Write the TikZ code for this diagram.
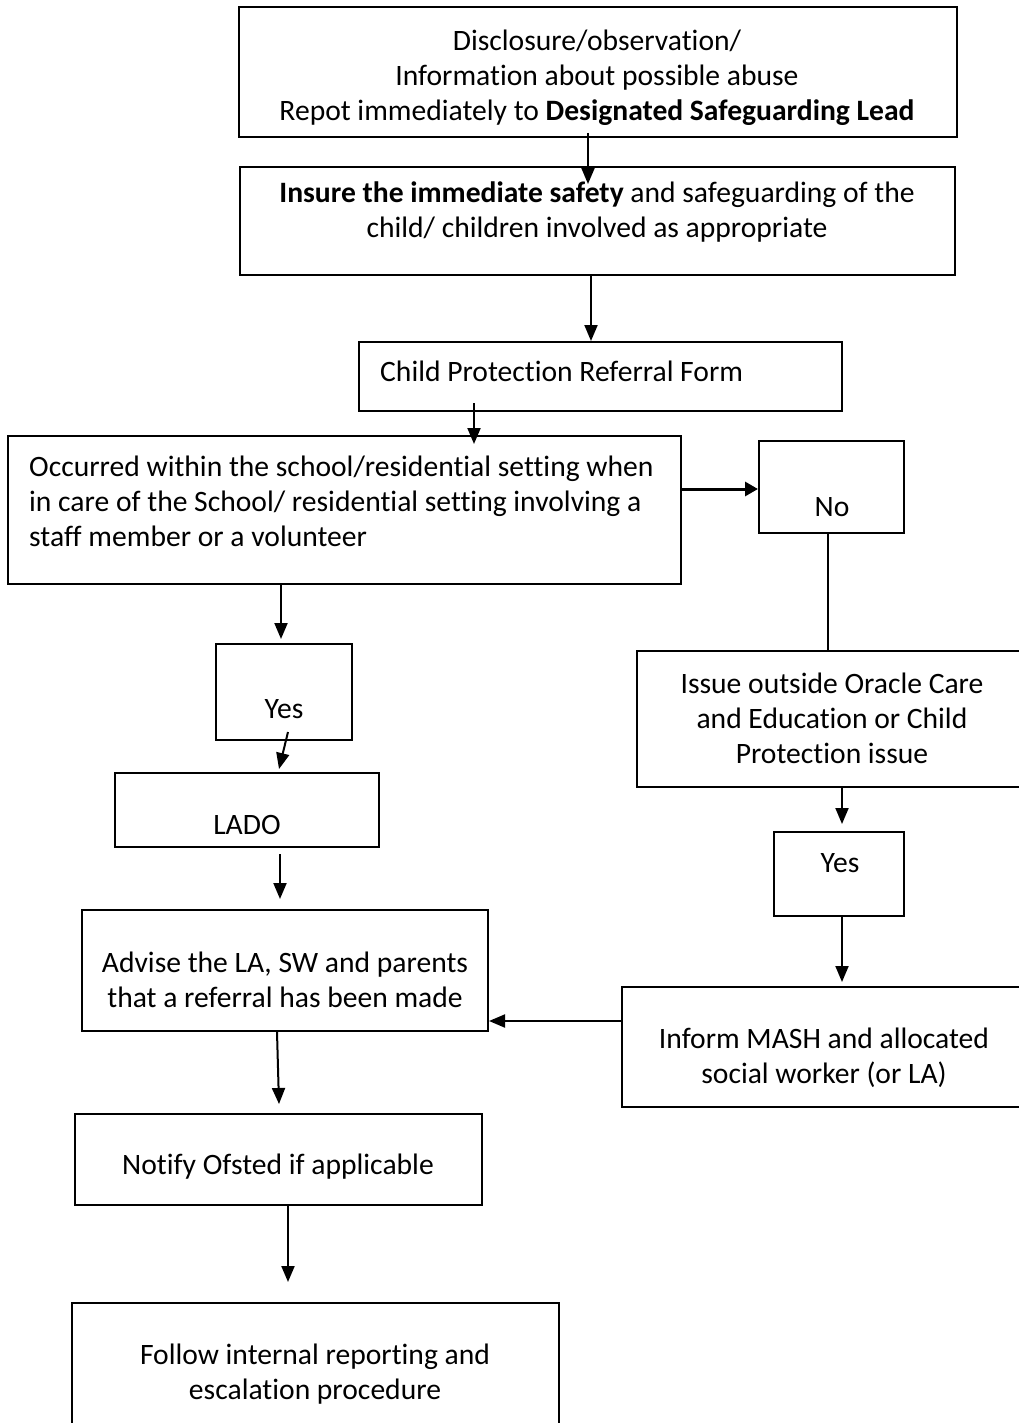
\documentclass[tikz,border=0pt]{standalone}
\usepackage{fontspec}
\setmainfont{Carlito}[Ligatures=NoCommon]
\usetikzlibrary{arrows.meta,calc}
\tikzset{
  box/.style={draw, line width=2pt, inner sep=0pt, rectangle},
  txt/.style={inner sep=0pt, font=\fontsize{29.6}{35}\selectfont, align=center},
  arr/.style={line width=2pt, -{Triangle[length=16pt,width=13pt]}},
  plain/.style={line width=2pt}
}
\newcommand{\bx}[5]{\node[box, minimum width={#4-#2}, minimum height={#5-#3}] (#1) at ({(#2+#4)/2},{(#3+#5)/2}) {};}
\begin{document}
\begin{tikzpicture}[x=1pt,y=-1pt]
\useasboundingbox (0,0) rectangle (1019,1423);
\clip (0,0) rectangle (1019,1423);
\fill[white] (0,0) rectangle (1019,1423);
% boxes
\bx{b1}{239}{7}{957}{137}
\bx{b2}{240}{167}{955}{275}
\bx{b3}{359}{342}{842}{411}
\bx{b4}{8}{436}{681}{584}
\bx{no}{759}{441}{904}{533}
\bx{yesL}{216}{644}{352}{740}
\bx{issue}{637}{651}{1040}{787}
\bx{lado}{115}{773}{379}{847}
\bx{yesR}{774}{832}{904}{916}
\bx{advise}{82}{910}{488}{1031}
\bx{inform}{622}{987}{1040}{1107}
\bx{notify}{75}{1114}{482}{1205}
\bx{follow}{72}{1303}{559}{1445}
% texts
\node[txt] (t1) at (597,78) {Disclosure/observation/\\Information about possible abuse\\Repot immediately to \textbf{Designated Safeguarding Lead}};
\node[txt] (t2) at (597,212) {\textbf{Insure the immediate safety} and safeguarding of the\\child/ children involved as appropriate};
\node[txt, anchor=west] (t3) at (380,371) {Child Protection Referral Form};
\node[txt, anchor=west, align=left] (t4) at (29,501) {Occurred within the school/residential setting when\\in care of the School/ residential setting involving a\\staff member or a volunteer};
\node[txt] (tno) at (832,507) {No};
\node[txt] (tyesL) at (284,709) {Yes};
\node[txt] (tissue) at (832,718) {Issue outside Oracle Care\\and Education or Child\\Protection issue};
\node[txt] (tlado) at (247,825) {LADO};
\node[txt] (tyesR) at (840,863) {Yes};
\node[txt] (tadvise) at (285,980) {Advise the LA, SW and parents\\that a referral has been made};
\node[txt] (tinform) at (824,1058) {Inform MASH and allocated\\social worker (or LA)};
\node[txt] (tnotify) at (278,1167) {Notify Ofsted if applicable};
\node[txt] (tfollow) at (315,1374) {Follow internal reporting and\\escalation procedure};
% connectors
\draw[arr] (b1.south -| 588,0) ++(0,-5) -- (588,184);
\draw[arr] (b2.south -| 591,0) -- (b3.north -| 591,0);
\draw[arr] (b3.south -| 474,0) ++(0,-9) -- (474,444);
\draw[line width=3pt, -{Triangle[length=13pt,width=14pt]}] (b4.east |- 0,489) -- (no.west |- 0,489);
\draw[plain] (no.south -| 828,0) -- (issue.north -| 828,0);
\draw[arr] (b4.south -| 281,0) -- ($(yesL.north -| 281,0)+(0,-4)$);
\draw[arr] (288,732) -- ($(lado.north -| 279,0)+(0,-3)$);
\draw[arr] ($(lado.south -| 280,0)+(0,6)$) -- ($(advise.north -| 280,0)+(0,-10)$);
\draw[arr] (issue.south -| 842,0) -- ($(yesR.north -| 842,0)+(0,-7)$);
\draw[arr] (yesR.south -| 842,0) -- ($(inform.north -| 842,0)+(0,-4)$);
\draw[arr] (inform.west |- 0,1021) -- (advise.east |- 0,1021);
\draw[arr] (advise.south -| 277,0) -- ($(notify.north -| 279,0)+(0,-9)$);
\draw[arr] (notify.south -| 288,0) -- ($(follow.north -| 288,0)+(0,-20)$);
\end{tikzpicture}
\end{document}
